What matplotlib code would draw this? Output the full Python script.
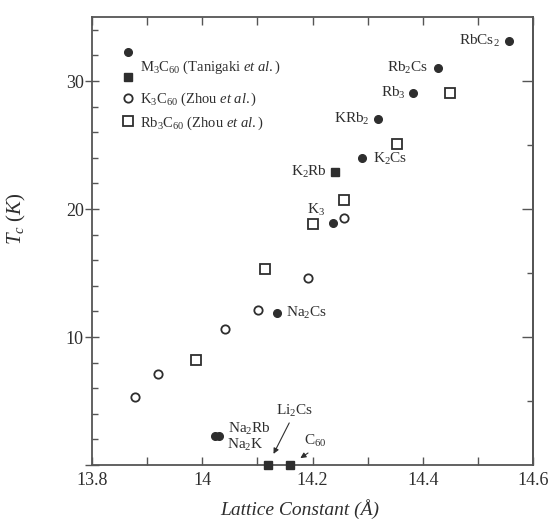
import matplotlib
matplotlib.use("Agg")
import matplotlib.pyplot as plt
from matplotlib.lines import Line2D
from matplotlib.legend_handler import HandlerBase
from matplotlib.ticker import MultipleLocator, FixedLocator, FuncFormatter

plt.rcParams["font.family"] = ["Liberation Serif", "DejaVu Serif"]
plt.rcParams["mathtext.fontset"] = "custom"
plt.rcParams["mathtext.rm"] = "Liberation Serif"
plt.rcParams["mathtext.it"] = "Liberation Serif:italic"

# M3C60 (Tanigaki et al.) - filled circles
circ_names = ["RbCs$_2$", "Rb$_2$Cs", "Rb$_3$", "KRb$_2$", "K$_2$Cs", "K$_3$",
              "Na$_2$Cs", "Na$_2$Rb", "Na$_2$K"]
circ_a = [14.556, 14.428, 14.382, 14.319, 14.290, 14.237, 14.136, 14.024, 14.030]
circ_tc = [33.1, 31.0, 29.05, 27.0, 24.0, 18.9, 11.9, 2.3, 2.3]

# M3C60 (Tanigaki et al.) - filled squares
sq_names = ["K$_2$Rb", "Li$_2$Cs", "C$_{60}$"]
sq_a = [14.241, 14.119, 14.159]
sq_tc = [22.9, 0.0, 0.0]

# K3C60 (Zhou et al.)
k3_a = [13.878, 13.920, 14.041, 14.101, 14.192, 14.257]
k3_tc = [5.3, 7.1, 10.6, 12.1, 14.6, 19.3]

# Rb3C60 (Zhou et al.)
rb3_a = [13.989, 14.114, 14.201, 14.257, 14.353, 14.449]
rb3_tc = [8.2, 15.3, 18.85, 20.7, 25.1, 29.05]

INK = "#2e2e2e"

# label placement: offset in points, horizontal alignment, arrow
label_style = {
    "RbCs$_2$": (-6.5, 0, "right", False),
    "Rb$_2$Cs": (-7, 0, "right", False),
    "Rb$_3$": (-5, 0, "right", False),
    "KRb$_2$": (-6, 0, "right", False),
    "K$_2$Cs": (8, -1, "left", False),
    "K$_3$": (-12, 9.5, "center", False),
    "Na$_2$Cs": (6.5, 0, "left", False),
    "Na$_2$Rb": (9, 5, "left", False),
    "Na$_2$K": (6, -6.5, "left", False),
    "K$_2$Rb": (-6, 0, "right", False),
    "Li$_2$Cs": (19.5, 39, "center", True),
    "C$_{60}$": (18.5, 17, "center", True),
}


class StackedHandler(HandlerBase):
    # circle above square for the Tanigaki entry
    def create_artists(self, legend, orig_handle, xdescent, ydescent,
                       width, height, fontsize, trans):
        cx = width / 2 - xdescent
        cy = height / 2 - ydescent
        top = Line2D([cx], [cy + 0.9 * fontsize], marker="o", ms=5.5,
                     color=INK, ls="none", transform=trans)
        bot = Line2D([cx], [cy - 0.8 * fontsize], marker="s", ms=5.5,
                     color=INK, ls="none", transform=trans)
        return [top, bot]


fig = plt.figure(figsize=(5.55, 5.27), dpi=100)
ax = fig.add_axes([0.1658, 0.1176, 0.7946, 0.8501])

ax.plot(circ_a, circ_tc, "o", ms=5.5, color=INK, ls="none", clip_on=False, zorder=3)
ax.plot(sq_a, sq_tc, "s", ms=5.5, color=INK, ls="none", clip_on=False, zorder=3)
ax.plot(k3_a, k3_tc, "o", ms=6, mfc="white", mec=INK, mew=1.3, ls="none", zorder=3)
ax.plot(rb3_a, rb3_tc, "s", ms=6.5, mfc="white", mec=INK, mew=1.3, ls="none", zorder=3)

all_names = circ_names + sq_names
all_a = circ_a + sq_a
all_tc = circ_tc + sq_tc
for name, a, tc in zip(all_names, all_a, all_tc):
    dx, dy, ha, arrow = label_style[name]
    props = None
    if arrow:
        props = dict(arrowstyle="-|>", color=INK, lw=0.8, mutation_scale=8,
                     shrinkA=1, shrinkB=9, relpos=(0.4, 0.0))
    ax.annotate(name, (a, tc), xytext=(dx, dy), textcoords="offset points",
                ha=ha, va="center", fontsize=11, color=INK, arrowprops=props)

ax.set_xlim(13.8, 14.6)
ax.set_ylim(0, 35)

ax.xaxis.set_major_locator(MultipleLocator(0.2))
ax.xaxis.set_minor_locator(MultipleLocator(0.1))
ax.xaxis.set_major_formatter(FuncFormatter(lambda v, p: f"{v:g}"))
ax.yaxis.set_major_locator(MultipleLocator(10))
ax.yaxis.set_minor_locator(MultipleLocator(2))
ax.yaxis.set_major_formatter(FuncFormatter(lambda v, p: "" if v == 0 else f"{v:g}"))

ax.tick_params(axis="x", which="both", direction="in", length=6, width=1,
               color="#555555", top=True, labelsize=13, pad=5, labelcolor=INK)
ax.tick_params(axis="y", which="major", direction="inout", length=10, width=1,
               color="#555555", right=False, labelsize=13, pad=1, labelcolor=INK)
ax.tick_params(axis="y", which="minor", direction="in", length=4.5, width=1,
               color="#555555", right=False)

sec = ax.secondary_yaxis("right")
sec.yaxis.set_major_locator(FixedLocator([10, 20, 30]))
sec.yaxis.set_minor_locator(FixedLocator([5, 15, 25]))
sec.tick_params(which="major", direction="in", length=8, width=1, color="#555555",
                labelright=False)
sec.tick_params(which="minor", direction="in", length=4, width=1, color="#555555")
sec.spines["right"].set_color("#555555")
sec.spines["right"].set_linewidth(1.3)

for s in ax.spines.values():
    s.set_color("#555555")
    s.set_linewidth(1.3)

ax.set_xlabel("Lattice Constant (Å)", fontsize=14, fontstyle="italic", color=INK)
ax.xaxis.set_label_coords(0.472, -0.075)
ax.set_ylabel("$T_c$ $(K)$", fontsize=15, color=INK)
ax.yaxis.set_label_coords(-0.145, 0.55)

h1 = Line2D([], [], ls="none")
leg1 = ax.legend([h1], ["M$_3$C$_{60}$ (Tanigaki $\\it{et\\ al.}$)"],
                 handler_map={h1: StackedHandler()}, loc="center left",
                 bbox_to_anchor=(0.065, 0.888), frameon=False, fontsize=10.5,
                 handlelength=1.0, handletextpad=0.33, borderpad=0, borderaxespad=0,
                 labelcolor=INK)
ax.add_artist(leg1)

h2 = Line2D([], [], marker="o", ms=6, mfc="white", mec=INK, mew=1.3, ls="none")
h3 = Line2D([], [], marker="s", ms=6.5, mfc="white", mec=INK, mew=1.3, ls="none")
ax.legend([h2, h3], ["K$_3$C$_{60}$ (Zhou $\\it{et\\ al.}$)",
                     "Rb$_3$C$_{60}$ (Zhou $\\it{et\\ al.}$)"],
          loc="center left", bbox_to_anchor=(0.065, 0.790), frameon=False,
          fontsize=10.5, handlelength=1.0, handletextpad=0.33, borderpad=0,
          borderaxespad=0, labelspacing=0.45, labelcolor=INK)

fig.savefig("out.png", dpi=100)
